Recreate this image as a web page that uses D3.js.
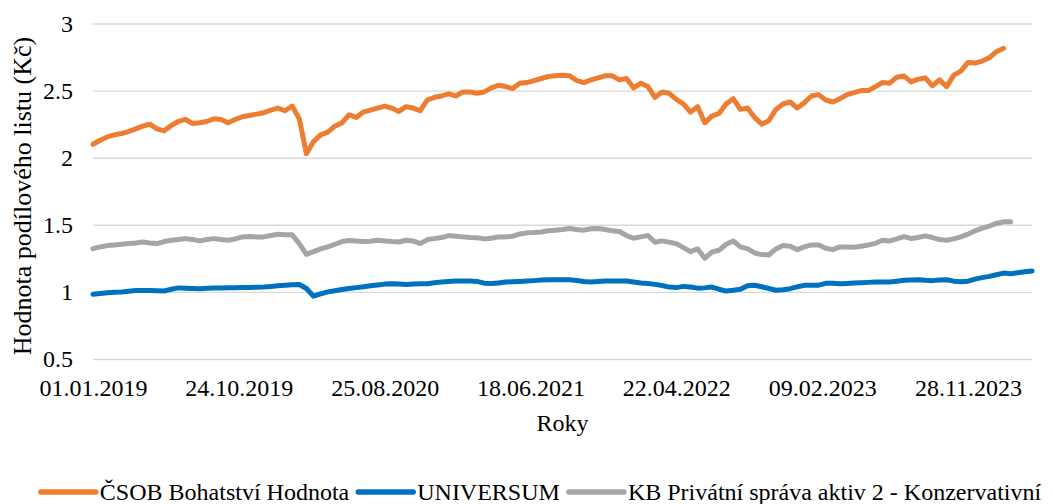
<!DOCTYPE html>
<html>
<head>
<meta charset="utf-8">
<script src="https://cdn.jsdelivr.net/npm/d3@7"></script>
</head>
<body style="margin:0">
<div id="chart"></div>
<script>
// fund unit values, one sample every 10 trading days from 01.01.2019
var tickLabels = ["01.01.2019", "24.10.2019", "25.08.2020", "18.06.2021", "22.04.2022", "09.02.2023", "28.11.2023"];
var labelEvery = 205;   // trading days between axis labels
var sampleStep = 10;    // trading days between samples
var totalDays = 1320;
var yTicks = [0.5, 1, 1.5, 2, 2.5, 3];

var seriesNames = ["ČSOB Bohatství Hodnota", "UNIVERSUM", "KB Privátní správa aktiv 2 - Konzervativní"];
var seriesColors = ["#ED7D31", "#0070C0", "#A5A5A5"];

var csob = [
  2.10, 2.13, 2.155, 2.17, 2.18, 2.195, 2.215, 2.235, 2.25, 2.215,
  2.20, 2.24, 2.27, 2.285, 2.255, 2.26, 2.27, 2.29, 2.285, 2.26,
  2.285, 2.305, 2.315, 2.325, 2.335, 2.355, 2.37, 2.35, 2.385, 2.29,
  2.03, 2.12, 2.17, 2.19, 2.235, 2.26, 2.32, 2.30, 2.34, 2.355,
  2.37, 2.385, 2.37, 2.345, 2.38, 2.37, 2.35, 2.43, 2.45, 2.46,
  2.475, 2.46, 2.49, 2.49, 2.48, 2.49, 2.52, 2.54, 2.53, 2.515,
  2.555, 2.56, 2.575, 2.59, 2.605, 2.61, 2.615, 2.61, 2.575, 2.56,
  2.58, 2.595, 2.61, 2.61, 2.58, 2.59, 2.52, 2.555, 2.53, 2.45,
  2.49, 2.48, 2.435, 2.40, 2.34, 2.38, 2.26, 2.31, 2.33, 2.40,
  2.44, 2.36, 2.37, 2.30, 2.25, 2.275, 2.36, 2.40, 2.415, 2.37,
  2.41, 2.46, 2.47, 2.43, 2.415, 2.44, 2.47, 2.485, 2.50, 2.50,
  2.53, 2.56, 2.555, 2.60, 2.61, 2.565, 2.585, 2.595, 2.535, 2.58,
  2.53, 2.615, 2.645, 2.71, 2.705, 2.72, 2.745, 2.79, 2.815
];

var universum = [
  0.982, 0.988, 0.993, 0.998, 1.000, 1.005, 1.01, 1.011, 1.01, 1.008,
  1.007, 1.02, 1.03, 1.028, 1.026, 1.024, 1.027, 1.029, 1.029, 1.03,
  1.031, 1.032, 1.033, 1.035, 1.036, 1.04, 1.045, 1.049, 1.053, 1.055,
  1.025, 0.968, 0.985, 1.0, 1.009, 1.018, 1.025, 1.032, 1.038, 1.046,
  1.052, 1.058, 1.061, 1.058, 1.056, 1.058, 1.06, 1.061, 1.068, 1.073,
  1.077, 1.081, 1.082, 1.081, 1.078, 1.065, 1.062, 1.067, 1.073, 1.076,
  1.078, 1.081, 1.084, 1.088, 1.09, 1.09, 1.091, 1.09, 1.085, 1.078,
  1.073, 1.077, 1.081, 1.081, 1.082, 1.081, 1.074, 1.066, 1.062, 1.056,
  1.048, 1.036, 1.032, 1.041, 1.037, 1.028, 1.03, 1.036, 1.02, 1.006,
  1.012, 1.02, 1.045, 1.05, 1.038, 1.025, 1.012, 1.016, 1.024, 1.038,
  1.049, 1.049, 1.05, 1.064, 1.065, 1.061, 1.063, 1.066, 1.068, 1.071,
  1.073, 1.073, 1.074, 1.08, 1.086, 1.088, 1.09, 1.086, 1.084, 1.088,
  1.09, 1.08, 1.076, 1.08, 1.095, 1.106, 1.116, 1.128, 1.14, 1.136,
  1.143, 1.15, 1.155
];

var kb = [
  1.322, 1.335, 1.345, 1.35, 1.355, 1.36, 1.365, 1.372, 1.365, 1.36,
  1.375, 1.385, 1.39, 1.397, 1.39, 1.38, 1.39, 1.397, 1.39, 1.385,
  1.395, 1.41, 1.412, 1.41, 1.41, 1.42, 1.429, 1.425, 1.425, 1.36,
  1.28, 1.30, 1.32, 1.335, 1.355, 1.375, 1.383, 1.379, 1.375, 1.378,
  1.385, 1.38, 1.375, 1.372, 1.385, 1.38, 1.36, 1.39, 1.397, 1.405,
  1.42, 1.415, 1.41, 1.405, 1.404, 1.395, 1.40, 1.41, 1.41, 1.414,
  1.432, 1.44, 1.442, 1.447, 1.455, 1.46, 1.465, 1.472, 1.465, 1.46,
  1.47, 1.472, 1.465, 1.455, 1.45, 1.42, 1.40, 1.41, 1.42, 1.37,
  1.38, 1.37, 1.36, 1.33, 1.30, 1.32, 1.25, 1.297, 1.31, 1.355,
  1.379, 1.335, 1.322, 1.29, 1.278, 1.275, 1.32, 1.345, 1.34, 1.315,
  1.335, 1.35, 1.35, 1.325, 1.315, 1.335, 1.335, 1.332, 1.34, 1.35,
  1.362, 1.385, 1.38, 1.395, 1.412, 1.398, 1.405, 1.418, 1.405, 1.39,
  1.385, 1.395, 1.41, 1.43, 1.455, 1.475, 1.49, 1.51, 1.522, 1.522
];

var allSeries = [csob, universum, kb];

var width = 1053, height = 504;
var margin = { left: 93, right: 21, top: 23.5, bottom: 145 };
var fontSize = 24;

var svg = d3.select("#chart").append("svg")
    .attr("width", width).attr("height", height);

var x = d3.scaleLinear().domain([0, totalDays]).range([margin.left, width - margin.right]);
var y = d3.scaleLinear().domain([0.5, 3]).range([height - margin.bottom, margin.top]);

// y axis with gridlines
var yAxis = svg.append("g")
    .attr("transform", "translate(" + margin.left + ",0)")
    .call(d3.axisLeft(y).tickValues(yTicks).tickFormat(d3.format("~g"))
        .tickSize(-(width - margin.right - margin.left)).tickPadding(20));
yAxis.select(".domain").remove();
yAxis.selectAll("line").attr("stroke", "#D9D9D9").attr("stroke-width", 1.4);

// x axis labels
var xAxis = svg.append("g")
    .attr("transform", "translate(0," + y(0.5) + ")")
    .call(d3.axisBottom(x).tickValues(tickLabels.map(function(d, i){ return i * labelEvery; }))
        .tickFormat(function(d, i){ return tickLabels[i]; })
        .tickSize(0).tickPadding(20));
xAxis.select(".domain").remove();

// lines
var line = d3.line()
    .x(function(d, i){ return x(i * sampleStep); })
    .y(function(d){ return y(d); });

svg.append("g").selectAll("path").data(allSeries).enter().append("path")
    .attr("d", line)
    .attr("fill", "none")
    .attr("stroke", function(d, i){ return seriesColors[i]; })
    .attr("stroke-width", 5)
    .attr("stroke-linejoin", "round")
    .attr("stroke-linecap", "round");

// axis titles
svg.append("text")
    .attr("x", (margin.left + width - margin.right) / 2).attr("y", 431)
    .attr("text-anchor", "middle")
    .text("Roky");

svg.append("text")
    .attr("class", "ytitle")
    .attr("transform", "translate(31,196) rotate(-90)")
    .attr("text-anchor", "middle")
    .text("Hodnota podílového listu (Kč)");

// legend
var legend = svg.append("g");
var items = legend.selectAll("g").data(seriesNames).enter().append("g");
items.append("line")
    .attr("x1", 0).attr("x2", 55).attr("y1", 0).attr("y2", 0)
    .attr("stroke", function(d, i){ return seriesColors[i]; })
    .attr("stroke-width", 5.5).attr("stroke-linecap", "round");
items.append("text")
    .attr("x", 59).attr("y", 8)
    .text(function(d){ return d; });

// font for every text
svg.selectAll("text")
    .style("font-family", "\"Liberation Serif\"")
    .style("font-size", fontSize + "px")
    .attr("fill", "#000");
svg.select(".ytitle").style("font-size", "26px");

var offset = 0;
items.each(function(){
    var w = 59 + d3.select(this).select("text").node().getComputedTextLength();
    d3.select(this).attr("transform", "translate(" + offset + ",0)");
    offset += w + 9;
});
var total = offset - 9;
legend.attr("transform", "translate(" + (541 - total / 2) + ",492)");
</script>
</body>
</html>
